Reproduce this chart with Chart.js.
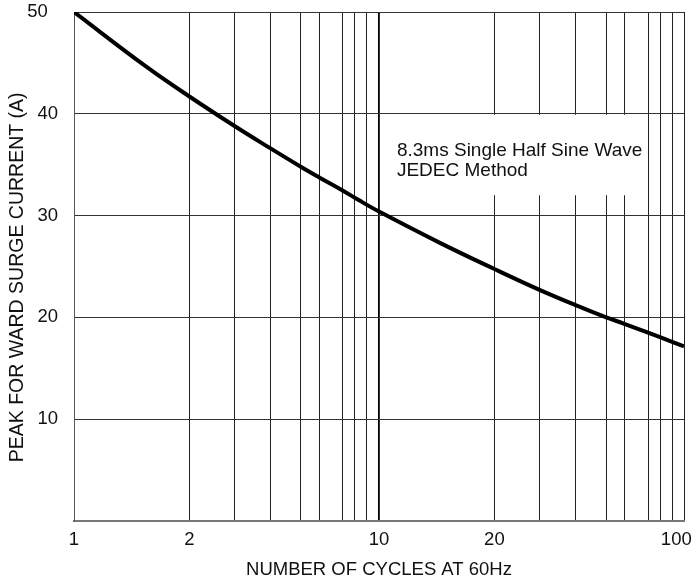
<!DOCTYPE html>
<html>
<head>
<meta charset="utf-8">
<script src="https://cdn.jsdelivr.net/npm/chart.js@4.4.0/dist/chart.umd.min.js"></script>
<style>
  html, body { margin: 0; padding: 0; background: #fff; }
  #wrap { width: 691px; height: 582px; }
</style>
</head>
<body>
<div id="wrap"><canvas id="surge"></canvas></div>
<script>
// surge curve (cycles on the log axis, amps)
const cycles = [1, 1.73, 2.39, 3.36, 4.41, 5.54, 6.37, 7.62, 8.55, 10, 15.9, 23.9, 33.6, 44.1, 55.6, 63.4, 76.2, 91.4, 100];
const current = [50, 44.6, 41.7, 38.8, 36.6, 34.8, 33.75, 32.45, 31.55, 30.4, 27.3, 24.75, 22.7, 21.2, 20.0, 19.4, 18.5, 17.6, 17.15];

// vertical rules of the log paper, where they sit on the printed axis
const xGrid = [1, 2.39, 3.36, 4.41, 5.54, 6.37, 7.62, 8.34, 9.13, 10, 23.9, 33.6, 44.2, 55.6, 63.6, 76.3, 83.5, 91.5, 100];
const xTickLabels = ['1', '2', '', '', '', '', '', '', '', '10', '20', '', '', '', '', '', '', '', '100'];
const yTicks = [0, 10, 20, 30, 40, 50];
const yTickLabels = ['', '10', '20', '30', '40', '50'];
const noteLines = ['8.3ms Single Half Sine Wave', 'JEDEC Method'];

const FONT = '"Liberation Sans", Arial, sans-serif';
Chart.defaults.font.family = FONT;
Chart.defaults.color = '#111';

// white panel behind the test-condition note, then the note itself
const notePlugin = {
  id: 'note',
  beforeDatasetsDraw(chart) {
    const { ctx, scales: { x, y } } = chart;
    const l = x.getPixelForValue(10) + 1.5;
    const r = x.getPixelForValue(72);
    const t = y.getPixelForValue(40) + 1;
    const b = y.getPixelForValue(32);
    ctx.save();
    ctx.fillStyle = '#fff';
    ctx.fillRect(l, t, r - l, b - t);
    ctx.fillStyle = '#111';
    ctx.font = '19px ' + FONT;
    ctx.textBaseline = 'alphabetic';
    const tx = x.getPixelForValue(11.45);
    const ty = y.getPixelForValue(35.9);
    noteLines.forEach((s, i) => ctx.fillText(s, tx, ty + i * 20));
    ctx.restore();
  }
};

new Chart(document.getElementById('surge'), {
  type: 'line',
  data: {
    datasets: [{
      data: cycles.map((c, i) => ({ x: c, y: current[i] })),
      borderColor: '#000',
      borderWidth: 4,
      pointRadius: 0,
      tension: 0.4,
      fill: false
    }]
  },
  options: {
    responsive: true,
    maintainAspectRatio: false,
    animation: false,
    layout: { padding: { top: 12, right: 7, left: 0, bottom: 0 } },
    plugins: { legend: { display: false }, tooltip: { enabled: false } },
    scales: {
      x: {
        type: 'logarithmic',
        min: 1,
        max: 100,
        afterBuildTicks: s => { s.ticks = xGrid.map(v => ({ value: v })); },
        afterFit: s => { s.height = 61; s.paddingLeft = 0; s.paddingRight = 0; },
        ticks: {
          autoSkip: false,
          maxRotation: 0,
          padding: 8,
          font: { size: 18.5 },
          color: '#111',
          // last label is pulled in so it stays on the page
          callback: (v, i) => xTickLabels[i] + (i === xGrid.length - 1 ? '   ' : '')
        },
        grid: {
          drawTicks: false,
          color: c => (c.tick && c.tick.value === 10 ? '#000' : '#222'),
          lineWidth: c => (c.tick && c.tick.value === 10 ? 1.8 : 1)
        },
        border: { color: '#777', width: 2 },
        title: {
          display: true,
          text: 'NUMBER OF CYCLES AT 60Hz',
          font: { size: 18.5 },
          color: '#111',
          padding: { top: 0, bottom: 1 }
        }
      },
      y: {
        min: 0,
        max: 50,
        afterBuildTicks: s => { s.ticks = yTicks.map(v => ({ value: v })); },
        afterFit: s => { s.width = 74; s.paddingTop = 0; s.paddingBottom = 0; },
        ticks: {
          padding: 16,
          font: { size: 18.5 },
          color: '#111',
          callback: (v, i) => yTickLabels[i] + (i === yTicks.length - 1 ? '  ' : '')
        },
        grid: { drawTicks: false, color: '#333', lineWidth: 1 },
        border: { color: '#555', width: 1 },
        title: {
          display: true,
          // trailing blanks nudge the centred title down to where it is printed
          text: 'PEAK FOR WARD SURGE CURRENT (A)    ',
          font: { size: 19.5 },
          color: '#111',
          padding: { top: 6, bottom: 0 }
        }
      }
    }
  },
  plugins: [notePlugin]
});
</script>
</body>
</html>
